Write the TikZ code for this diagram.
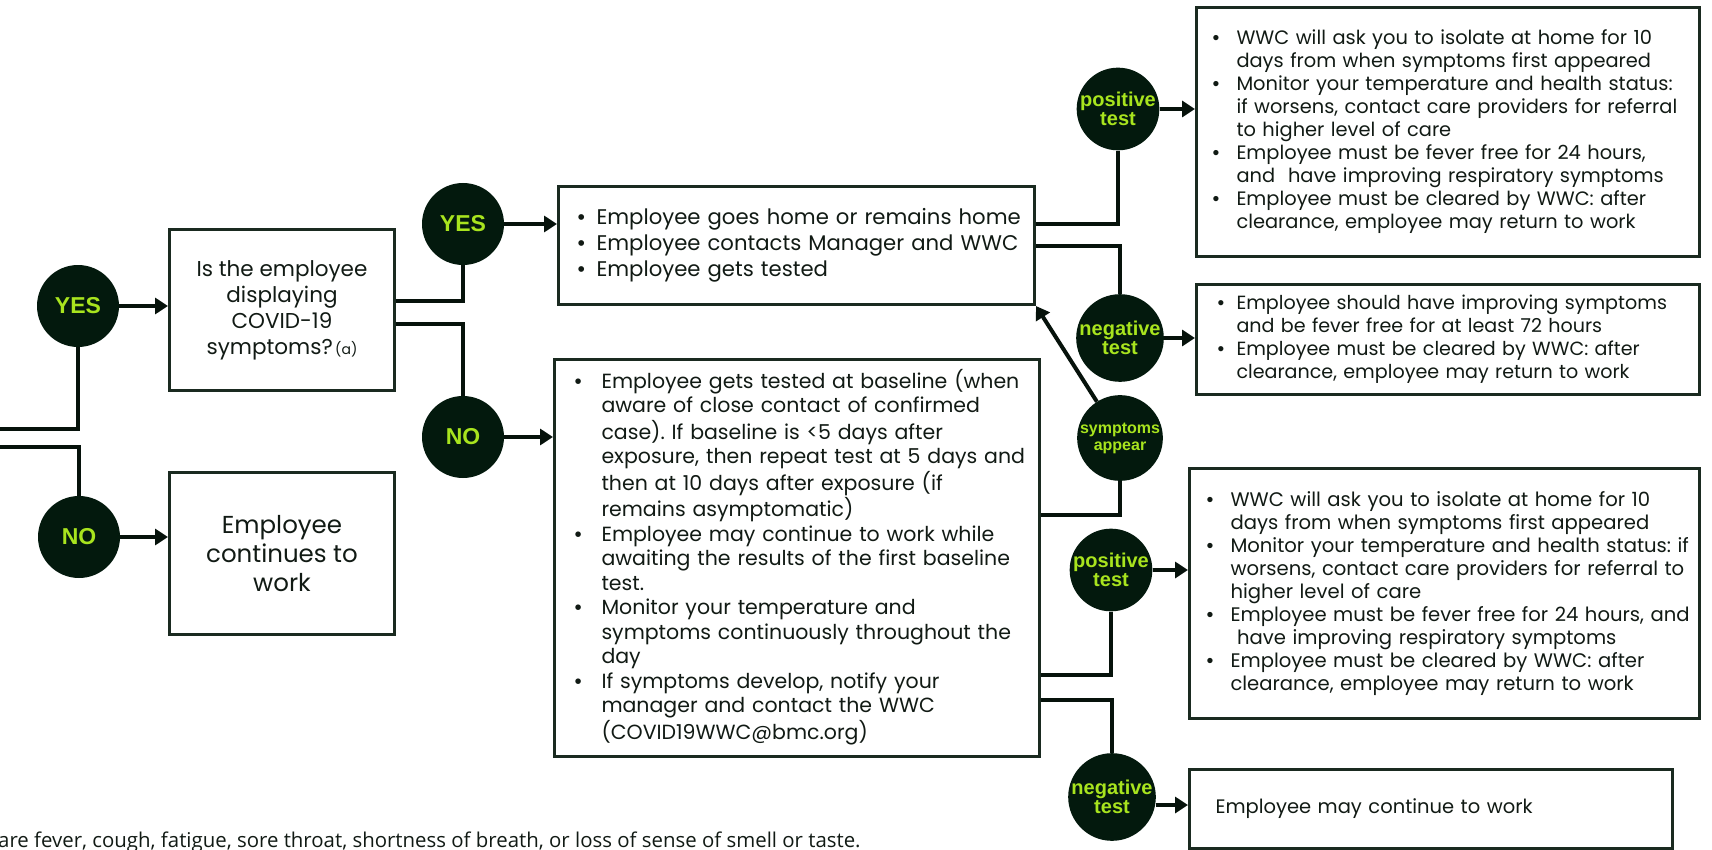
\documentclass[tikz,border=0pt]{standalone}
\usepackage{fontspec}
\setmainfont{Poppins}
\newfontfamily\labfont{Liberation Sans}
\newfontfamily\notefont{Open Sans}
\usetikzlibrary{arrows.meta,calc}
\definecolor{circfill}{HTML}{03190D}
\definecolor{labgreen}{HTML}{A8E41E}
\definecolor{linecol}{HTML}{06120B}
\definecolor{boxcol}{HTML}{1A2A20}
\definecolor{txtcol}{HTML}{111A14}
\pgfdeclarelayer{bg}\pgfsetlayers{bg,main}
\newcommand{\blist}[2]{\begin{tabular}{@{}p{#1}@{}l@{}}#2\end{tabular}}
\newcommand{\bul}{{\labfont •}}
\tikzset{
  dot/.style={circle, fill=circfill, minimum size=82pt, inner sep=0pt, text=labgreen,
    font=\labfont\bfseries\fontsize{23}{26}\selectfont},
  smalldot/.style={dot, align=center, font=\labfont\bfseries\fontsize{20}{19}\selectfont},
  box/.style={draw=boxcol, line width=3pt, rectangle, inner sep=0pt, text=txtcol, anchor=north west},
  conn/.style={draw=linecol, line width=4pt},
  arr/.style={conn, -{Triangle[length=13pt,width=16pt]}},
}
\begin{document}
\frenchspacing
\begin{tikzpicture}[x=1pt,y=-1pt]
\useasboundingbox (0,0) rectangle (1712,850);
% decision boxes
\node[box, minimum width=225pt, minimum height=161pt, align=center,
  font=\fontsize{21.5}{26}\selectfont] (q) at (168,228)
  {Is the employee\\displaying\\COVID-19\\symptoms?{\fontsize{14}{16}\selectfont\,(a)}};
\node[box, minimum width=225pt, minimum height=162pt, align=center,
  font=\fontsize{24.5}{29}\selectfont] (c) at (168,471)
  {Employee\\continues to\\work};
% action boxes
\node[box, minimum height=118pt, text width=438pt, inner xsep=19pt, align=left,
  font=\fontsize{21.2}{26}\selectfont] (b1) at (557,185)
  {\blist{19pt}{\bul & Employee goes home or remains home\\
  \bul & Employee contacts Manager and WWC\\
  \bul & Employee gets tested}};
\node[box, minimum height=397pt, text width=445pt, inner xsep=20pt, align=left,
  font=\fontsize{20.5}{24.5}\selectfont] (b2) at (553,358)
  {\blist{27pt}{\bul & Employee gets tested at baseline (when\\
  & aware of close contact of confirmed\\
  & case). If baseline is <5 days after\\
  & exposure, then repeat test at 5 days and\\
  & then at 10 days after exposure (if\\
  & remains asymptomatic)\\
  \bul & Employee may continue to work while\\
  & awaiting the results of the first baseline\\
  & test.\\
  \bul & Monitor your temperature and\\
  & symptoms continuously throughout the\\
  & day\\
  \bul & If symptoms develop, notify your\\
  & manager and contact the WWC\\
  & (COVID19WWC@bmc.org)}};
\node[box, minimum height=249pt, text width=471pt, inner xsep=16pt, align=left,
  font=\fontsize{19.4}{23}\selectfont] (b3) at (1195,6)
  {\blist{24pt}{\bul & WWC will ask you to isolate at home for 10\\
  & days from when symptoms first appeared\\
  \bul & Monitor your temperature and health status:\\
  & if worsens, contact care providers for referral\\
  & to higher level of care\\
  \bul & Employee must be fever free for 24 hours,\\
  & and\ \ have improving respiratory symptoms\\
  \bul & Employee must be cleared by WWC: after\\
  & clearance, employee may return to work}};
\node[box, minimum height=110pt, text width=461pt, inner xsep=21pt, align=left,
  font=\fontsize{19.1}{23}\selectfont] (b4) at (1195,283)
  {\blist{19pt}{\bul & Employee should have improving symptoms\\
  & and be fever free for at least 72 hours\\
  \bul & Employee must be cleared by WWC: after\\
  & clearance, employee may return to work}};
\node[box, minimum height=250pt, text width=476pt, inner xsep=17pt, align=left,
  font=\fontsize{19.6}{23}\selectfont] (b5) at (1188,467)
  {\blist{24pt}{\bul & WWC will ask you to isolate at home for 10\\
  & days from when symptoms first appeared\\
  \bul & Monitor your temperature and health status: if\\
  & worsens, contact care providers for referral to\\
  & higher level of care\\
  \bul & Employee must be fever free for 24 hours, and\\
  & \ have improving respiratory symptoms\\
  \bul & Employee must be cleared by WWC: after\\
  & clearance, employee may return to work}};
\node[box, minimum height=79pt, text width=431pt, inner xsep=26pt, align=left,
  font=\fontsize{19.5}{23}\selectfont] (b6) at (1188,768)
  {Employee may continue to work};
% circles
\node[dot] (yes1) at (78,306) {YES};
\node[dot] (no1) at (79,537) {NO};
\node[dot] (yes2) at (463,224) {YES};
\node[dot] (no2) at (463,437) {NO};
\node[smalldot] (pos1) at (1118,109) {positive\\test};
\node[smalldot] (neg1) at (1120,338) {negative\\test};
\node[smalldot, font=\labfont\bfseries\fontsize{16}{17}\selectfont] (symp) at (1120,438) {symptoms\\appear};
\node[smalldot] (pos2) at (1111,570) {positive\\test};
\node[smalldot] (neg2) at (1112,797) {negative\\test};
% footnote
\node[anchor=base west, inner sep=0pt, text=txtcol, font=\notefont\fontsize{20.4}{22}\selectfont] (note) at (-2,847)
  {are fever, cough, fatigue, sore throat, shortness of breath, or loss of sense of smell or taste.};
% connectors
\coordinate (inYes) at (0,429);
\coordinate (inNo) at (0,447);
\begin{pgfonlayer}{bg}
\draw[conn] (inYes) -| (yes1);
\draw[conn] (inNo) -| (no1);
\draw[conn] ([yshift=9.5pt]q.east) -| (yes2);
\draw[conn] ([yshift=-13.5pt]q.east) -| (no2);
\draw[conn] ([yshift=21pt]b1.east) -| (pos1);
\draw[conn] ([yshift=-1pt]b1.east) -| (neg1);
\draw[conn] ([yshift=43.5pt]b2.east) -| (symp);
\draw[conn] ([yshift=-116.5pt]b2.east) -| (pos2);
\draw[conn] ([yshift=-141.5pt]b2.east) -| (neg2);
\end{pgfonlayer}
\draw[arr] (yes1.east) -- (yes1.east -| q.west);
\draw[arr] (no1.east) -- (no1.east -| c.west);
\draw[arr] (yes2.east) -- (yes2.east -| b1.west);
\draw[arr] (no2.east) -- (no2.east -| b2.west);
\draw[arr] (pos1.east) -- (pos1.east -| b3.west);
\draw[arr] (neg1.east) -- (neg1.east -| b4.west);
\draw[arr] (pos2.east) -- (pos2.east -| b5.west);
\draw[arr] ([yshift=-8pt]neg2.east) -- ([yshift=-8pt]neg2.east -| b6.west);
\draw[arr] (symp) -- (b1.south east);
\end{tikzpicture}
\end{document}
